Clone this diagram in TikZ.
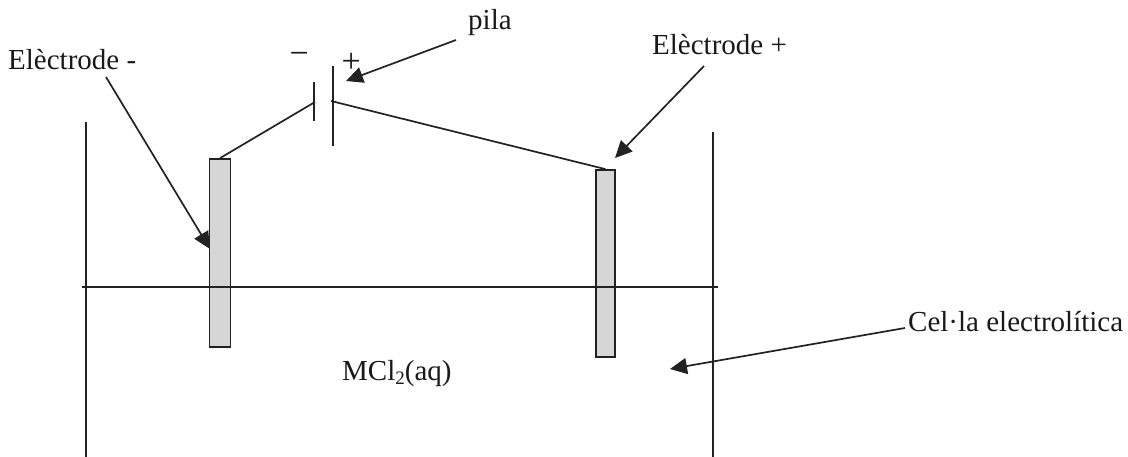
\documentclass[tikz,border=0pt]{standalone}
\usepackage{fontspec}
\setmainfont{Liberation Serif}
\usepackage{tikz}
\usetikzlibrary{arrows.meta}
\definecolor{ink}{HTML}{222222}
\tikzstyle{electrode} = [rectangle, minimum width=21pt, inner sep=0pt, draw=ink, line width=1.7pt, fill=black!16]
\tikzstyle{tag} = [anchor=base west, inner sep=0pt, text=black!90, font=\fontsize{29}{32}\selectfont]
\tikzstyle{sign} = [tag, font=\fontsize{34}{36}\selectfont]
\tikzstyle{line} = [ink, line width=1.7pt]
\tikzstyle{arrow} = [line, -{Triangle[length=17pt,width=16pt]}]

\begin{document}
\begin{tikzpicture}[x=1pt, y=-1pt]
  \useasboundingbox (0,0) rectangle (1128,457);

  % labels
  \node (neg label) [tag] at (8,70) {Elèctrode -};
  \node (pos label) [tag] at (652,55) {Elèctrode +};
  \node (pila label) [tag] at (468,30) {pila};
  \node (cell label) [tag] at (908,331) {Cel·la electrolítica};
  \node (salt label) [tag] at (342,380) {MCl\raisebox{-4pt}{\fontsize{19}{19}\selectfont 2}(aq)};
  \node (minus sign) [sign] at (289.5,64.5) {−};
  \node (plus sign) [sign] at (341.5,72.5) {+};

  % free ends
  \coordinate (left top) at (86,122);
  \coordinate (left bottom) at (86,457);
  \coordinate (right top) at (713,132);
  \coordinate (right bottom) at (713,457);
  \coordinate (level left) at (82,287);
  \coordinate (level right) at (718,287);
  \coordinate (neg term) at (315,102);
  \coordinate (pos term) at (331,101);
  \coordinate (neg from) at (106,77);
  \coordinate (neg tip) at (210,249);
  \coordinate (pos from) at (704,66);
  \coordinate (pos tip) at (615,158);
  \coordinate (pila from) at (456,40);
  \coordinate (pila tip) at (346,81);
  \coordinate (cell from) at (905,328);
  \coordinate (cell tip) at (670,369);

  % this one goes under the electrode
  \draw [arrow] (neg from) -- (neg tip);

  \node (neg electrode) [electrode, minimum height=188pt] at (220,253) {};
  \node (pos electrode) [electrode, minimum width=19pt, minimum height=187pt] at (605.5,263.5) {};

  % cell
  \draw [line] (left top) -- (left bottom);
  \draw [line] (right top) -- (right bottom);
  \draw [line] (level left) -- (level right);

  % battery
  \coordinate (neg plate top) at (314,82);
  \coordinate (neg plate end) at (314,121);
  \coordinate (pos plate top) at (333,66);
  \coordinate (pos plate end) at (333,146);
  \draw [line] (neg plate top) -- (neg plate end);
  \draw [line] (pos plate top) -- (pos plate end);
  \draw [line] (neg electrode.north) -- (neg term);
  \draw [line] (pos term) -- (pos electrode.north);

  \draw [arrow] (pos from) -- (pos tip);
  \draw [arrow] (pila from) -- (pila tip);
  \draw [arrow] (cell from) -- (cell tip);

\end{tikzpicture}
\end{document}
